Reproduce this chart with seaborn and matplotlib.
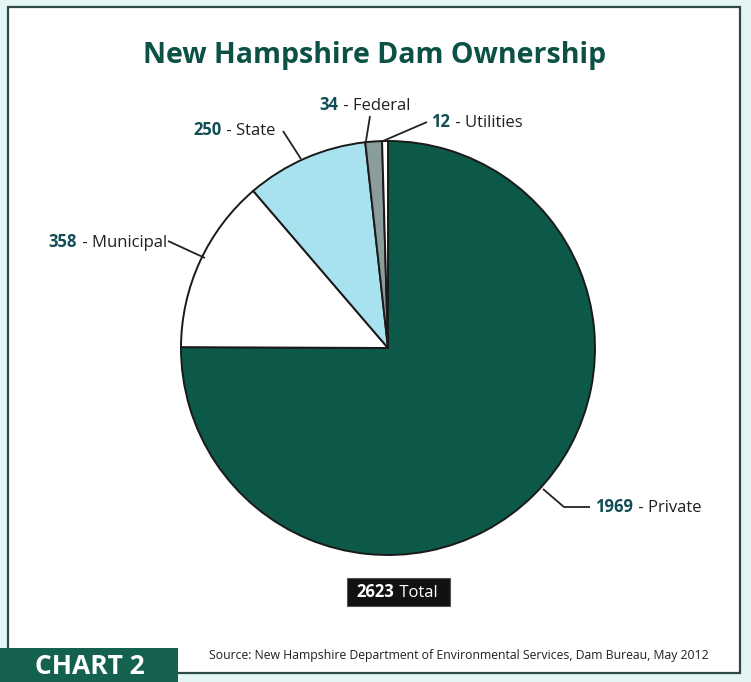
import matplotlib
matplotlib.use("Agg")
import matplotlib.pyplot as plt
from matplotlib.patches import Rectangle
import seaborn as sns

# Dam ownership counts, New Hampshire, May 2012
owners = ["Private", "Municipal", "State", "Federal", "Utilities"]
dams = [1969, 358, 250, 34, 12]
total = 2623
slice_colors = ["#0d5949", "#ffffff", "#a9e2ef", "#8a9c9b", "#ffffff"]

TEAL = "#0b5145"
NUM = "#124e55"
INK = "#231f20"

sns.set_theme(style="white")
plt.rcParams["font.family"] = ["Open Sans", "DejaVu Sans"]

W, H = 751, 682
fig = plt.figure(figsize=(W / 100, H / 100), dpi=100)
fig.patch.set_facecolor("#e3f5f5")
ax = fig.add_axes([0, 0, 1, 1])
ax.set_xlim(0, W)
ax.set_ylim(0, H)
ax.set_aspect("equal")
ax.axis("off")


def Y(py):
    return H - py


# panel with frame
ax.add_patch(Rectangle((8, Y(673)), 732, 666, facecolor="white",
                       edgecolor="#2f4a46", lw=1.6, zorder=0))

cx, cy, r = 388, Y(348), 207
ax.pie(dams, colors=slice_colors, startangle=90, counterclock=False,
       center=(cx, cy), radius=r, frame=True,
       wedgeprops=dict(edgecolor="#1a1a1a", linewidth=1.4))
ax.set_xlim(0, W)
ax.set_ylim(0, H)
ax.axis("off")

ax.text(375, Y(55), "New Hampshire Dam Ownership", ha="center", va="center",
        fontsize=20.5, fontweight="bold", color=TEAL)

renderer = fig.canvas.get_renderer()


def two_part(x, y, first, second, size, c1, c2, z=2):
    """Bold first part followed by regular second part on one baseline."""
    t = ax.text(x, Y(y), first, ha="left", va="baseline", fontsize=size,
                fontweight="bold", color=c1, zorder=z)
    w = t.get_window_extent(renderer=renderer).width
    ax.text(x + w + 1, Y(y), second, ha="left", va="baseline", fontsize=size,
            color=c2, zorder=z)


def label(x, y, number, name):
    two_part(x, y, str(number), " - " + name, 12, NUM, INK)


def leader(points):
    xs = [p[0] for p in points]
    ys = [Y(p[1]) for p in points]
    ax.plot(xs, ys, color="#222222", lw=1.3, solid_capstyle="butt")


label(319, 110, dams[3], owners[3])
leader([(370, 116), (366, 141)])

label(431, 127, dams[4], owners[4])
leader([(427, 122), (383, 141)])

label(193, 135, dams[2], owners[2])
leader([(283, 131), (301, 159)])

label(48, 247, dams[1], owners[1])
leader([(168, 241), (205, 258)])

label(595, 512, dams[0], owners[0])
leader([(543, 489), (564, 507), (590, 507)])

# total badge
ax.add_patch(Rectangle((347, Y(606)), 103, 28, facecolor="#111111",
                       edgecolor="#555555", lw=0.8, zorder=3))
two_part(356, 597, str(total), " Total", 12, "white", "white", z=4)

ax.text(209, Y(659), "Source: New Hampshire Department of Environmental Services, "
        "Dam Bureau, May 2012", ha="left", va="baseline", fontsize=8.8,
        color=INK)

# chart tag
ax.add_patch(Rectangle((0, 0), 178, Y(648), facecolor="#14614f",
                       edgecolor="none", zorder=5))
ax.text(90, Y(666), "CHART 2", ha="center", va="center", fontsize=19,
        fontweight="bold", color="white", zorder=6)

fig.savefig("out.png", dpi=100, facecolor=fig.get_facecolor())
